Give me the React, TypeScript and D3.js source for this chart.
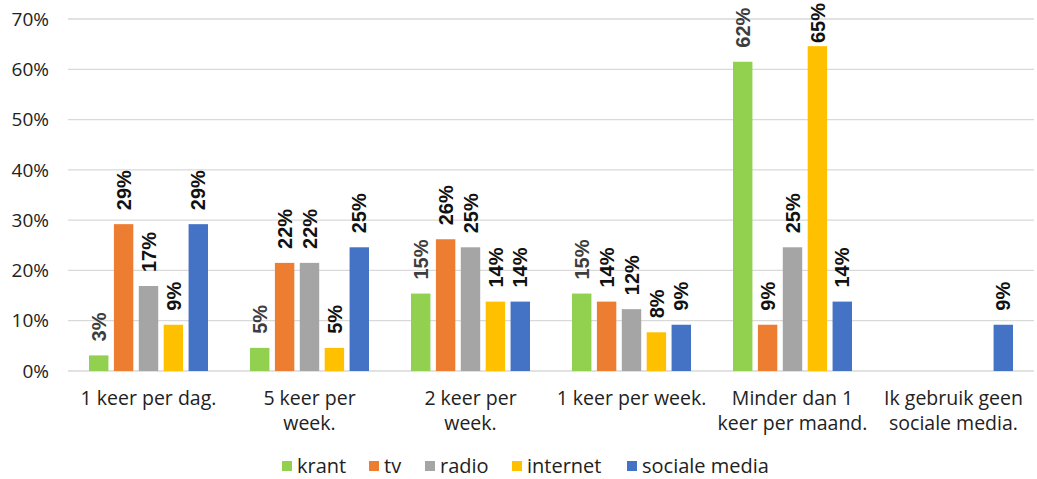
import React from "react";
import * as d3 from "d3";

const categories: string[][] = [
  ["1 keer per dag."],
  ["5 keer per", "week."],
  ["2 keer per", "week."],
  ["1 keer per week."],
  ["Minder dan 1", "keer per maand."],
  ["Ik gebruik geen", "sociale media."],
];
const seriesNames = ["krant", "tv", "radio", "internet", "sociale media"];
const colors = ["#92D050", "#ED7D31", "#A5A5A5", "#FFC000", "#4472C4"];

// values in %, per series, one per category (null = no bar)
const krant: (number | null)[] = [3.1, 4.6, 15.4, 15.4, 61.5, null];
const tv: (number | null)[] = [29.2, 21.5, 26.2, 13.8, 9.2, null];
const radio: (number | null)[] = [16.9, 21.5, 24.6, 12.3, 24.6, null];
const internet: (number | null)[] = [9.2, 4.6, 13.8, 7.7, 64.6, null];
const sociale: (number | null)[] = [29.2, 24.6, 13.8, 9.2, 13.8, 9.2];
const seriesValues = [krant, tv, radio, internet, sociale];
const yTicks = [0, 10, 20, 30, 40, 50, 60, 70];

const W = 1037;
const H = 479;
const FONT = "'Open Sans', Lato, sans-serif";

export default function App() {
  const catIdx = categories.map((_, i) => String(i));
  const x0 = d3
    .scaleBand<string>()
    .domain(catIdx)
    .range([68, 1034])
    .paddingInner(0.227)
    .paddingOuter(0.1135);
  const x1 = d3
    .scaleBand<string>()
    .domain(seriesNames)
    .range([0, x0.bandwidth()])
    .paddingInner(0.22)
    .paddingOuter(0.11);
  const y = d3.scaleLinear().domain([0, 70]).range([371, 19]);

  const legendX = [282, 369, 425, 512, 627];

  return (
    <svg
      width={W}
      height={H}
      style={{ position: "absolute", left: 0, top: 0, background: "#fff" }}
      fontFamily={FONT}
    >
      {yTicks.map((t) => (
        <g key={t}>
          <line x1={68} x2={1034} y1={y(t)} y2={y(t)} stroke="#D9D9D9" strokeWidth={1.3} />
          <text x={49} y={y(t)} dy="0.35em" textAnchor="end" fontSize={19} fill="#222">
            {t}%
          </text>
        </g>
      ))}
      {seriesValues.map((vals, si) =>
        vals.map((v, ci) => {
          if (v == null) return null;
          const bx = (x0(String(ci)) as number) + (x1(seriesNames[si]) as number);
          const bw = x1.bandwidth();
          const top = y(v);
          const cx = bx + bw / 2;
          const ly = Math.max(top - 14, 43);
          return (
            <g key={`${si}-${ci}`}>
              <rect x={bx} y={top} width={bw} height={y(0) - top} fill={colors[si]} />
              <text
                transform={`translate(${cx},${ly}) rotate(-90)`}
                dy="0.36em"
                textAnchor="start"
                fontSize={20}
                fontWeight="bold"
                fontFamily="'Liberation Sans', Arial, sans-serif"
                fill={si === 0 ? "#3d3d3d" : "#111"}
              >
                {Math.round(v)}%
              </text>
            </g>
          );
        })
      )}
      {categories.map((lines, ci) => {
        const cx = (x0(String(ci)) as number) + x0.bandwidth() / 2;
        return (
          <text key={ci} x={cx} y={405} textAnchor="middle" fontSize={19.5} fill="#222">
            {lines.map((l, li) => (
              <tspan key={li} x={cx} dy={li === 0 ? 0 : 25}>
                {l}
              </tspan>
            ))}
          </text>
        );
      })}
      {seriesNames.map((s, si) => (
        <g key={s}>
          <rect x={legendX[si]} y={461} width={10} height={10} fill={colors[si]} />
          <text x={legendX[si] + 15} y={473} fontSize={20} fill="#222">
            {s}
          </text>
        </g>
      ))}
    </svg>
  );
}
